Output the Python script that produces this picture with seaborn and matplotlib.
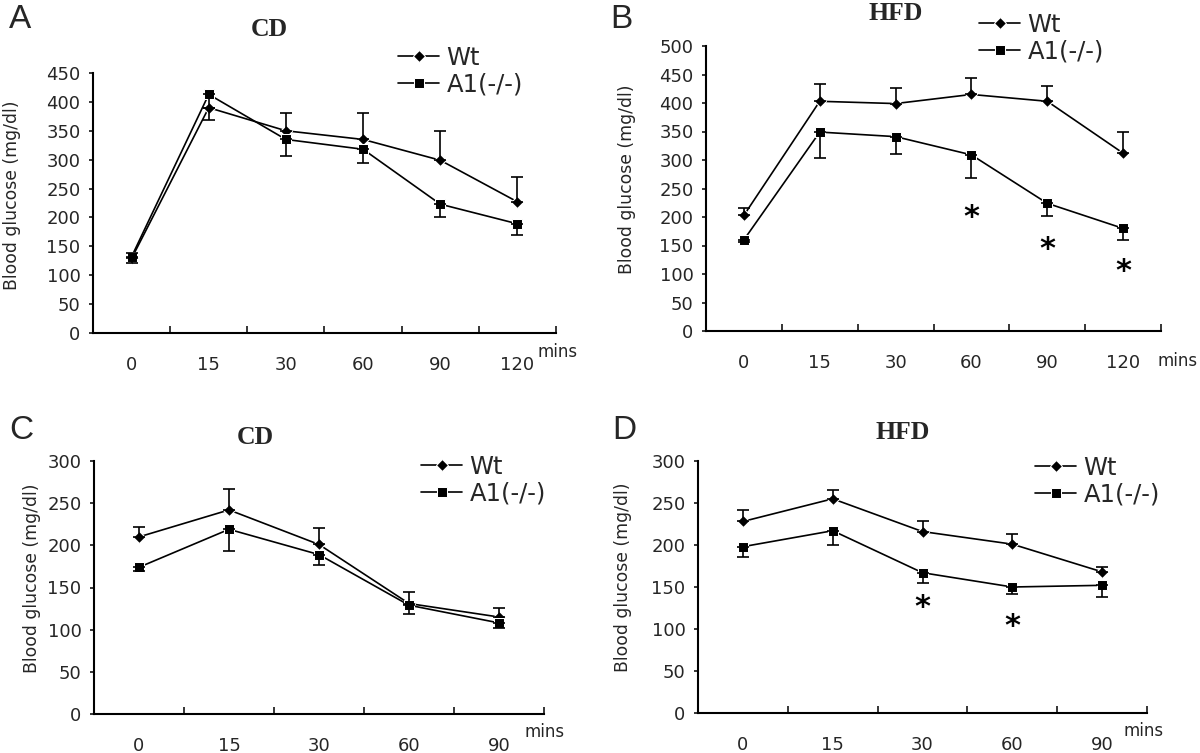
import matplotlib
matplotlib.use("Agg")
import matplotlib.pyplot as plt
import numpy as np
import pandas as pd
import seaborn as sns

# --- data ---
times_long = ["0", "15", "30", "60", "90", "120"]
times_short = ["0", "15", "30", "60", "90"]

# A: CD, long time course
wt_a = [129, 390, 350, 335, 299, 227]
wt_a_err = [9, 0, 30, 45, 51, 43]
ko_a = [132, 413, 335, 318, 223, 189]
ko_a_err = [11, 45, 29, 23, 22, 20]

# B: HFD, long time course
wt_b = [203, 403, 399, 415, 403, 312]
wt_b_err = [13, 31, 27, 28, 26, 38]
ko_b = [160, 349, 341, 309, 224, 180]
ko_b_err = [4, 45, 31, 40, 22, 21]
stars_b_idx = [3, 4, 5]
stars_b_y = [200, 143, 105]

# C: CD, short time course
wt_c = [210, 242, 201, 131, 115]
wt_c_err = [12, 25, 19, 14, 11]
ko_c = [174, 219, 189, 129, 108]
ko_c_err = [5, 26, 12, 11, 6]

# D: HFD, short time course
wt_d = [228, 255, 216, 201, 168]
wt_d_err = [14, 11, 12, 12, 6]
ko_d = [198, 217, 167, 150, 152]
ko_d_err = [12, 17, 12, 8, 14]
stars_d_idx = [2, 3]
stars_d_y = [125, 103]

sns.set_style("ticks")
plt.rcParams["font.family"] = ["DejaVu Sans"]

W, H = 1200, 753
fig = plt.figure(figsize=(12, 7.53), dpi=100)


def px_rect(left, top, right, bottom):
    return [left / W, 1 - bottom / H, (right - left) / W, (bottom - top) / H]


def fxy(x, y):
    return x / W, 1 - y / H


def draw_panel(ax, times, wt, wt_err, ko, ko_err, ymax, stars_idx=(), stars_y=()):
    pos = np.arange(len(times))
    df = pd.DataFrame({"pos": np.concatenate([pos, pos]),
                       "value": wt + ko,
                       "group": ["Wt"] * len(times) + ["A1(-/-)"] * len(times)})
    sns.lineplot(data=df, x="pos", y="value", hue="group", style="group",
                 palette=["black", "black"], markers={"Wt": "D", "A1(-/-)": "s"},
                 dashes=False, markersize=7.5, linewidth=1.2, ax=ax, legend=False)
    ax.lines[0].set_markersize(6)

    # one-sided error bars: Wt up, knockout down
    ax.errorbar(pos, wt, yerr=[np.zeros(len(wt)), wt_err], fmt="none",
                ecolor="black", elinewidth=1.2, capsize=4, capthick=1.2)
    ax.errorbar(pos, ko, yerr=[ko_err, np.zeros(len(ko))], fmt="none",
                ecolor="black", elinewidth=1.2, capsize=4, capthick=1.2)

    for i, y in zip(stars_idx, stars_y):
        ax.text(i, y, "*", ha="center", va="center", fontsize=22,
                fontweight="bold", color="black")

    ax.set_xlim(-0.5, len(times) - 0.5)
    ax.set_ylim(0, ymax)
    ax.set_yticks(np.arange(0, ymax + 1, 50))
    ax.set_xticks(pos)
    ax.set_xticklabels(times)
    ax.set_xticks(np.arange(0.5, len(times), 1), minor=True)
    ax.tick_params(axis="x", which="major", length=0, pad=16.5, labelsize=13)
    ax.tick_params(axis="x", which="minor", direction="in", length=5, width=1.3)
    ax.tick_params(axis="y", direction="out", length=3, width=1.3, pad=6, labelsize=13)
    ax.set_xlabel("")
    ax.set_ylabel("")
    for s in ["left", "bottom"]:
        ax.spines[s].set_linewidth(1.5)
        ax.spines[s].set_color("black")
    sns.despine(ax=ax)
    return ax


def add_legend(ax, x, y):
    handles = ax.lines[:2]
    fig.legend(handles, ["Wt", "A1(-/-)"], loc="upper left",
               bbox_to_anchor=fxy(x, y), frameon=False, fontsize=17.5,
               handlelength=1.7, handletextpad=0.3, labelspacing=0.1,
               borderpad=0, borderaxespad=0)


ax_a = fig.add_axes(px_rect(93, 73, 556, 333))
draw_panel(ax_a, times_long, wt_a, wt_a_err, ko_a, ko_a_err, 450)
ax_b = fig.add_axes(px_rect(706, 46, 1161, 331))
draw_panel(ax_b, times_long, wt_b, wt_b_err, ko_b, ko_b_err, 500, stars_b_idx, stars_b_y)
ax_c = fig.add_axes(px_rect(94, 461, 544, 714))
draw_panel(ax_c, times_short, wt_c, wt_c_err, ko_c, ko_c_err, 300)
ax_d = fig.add_axes(px_rect(698, 461, 1147, 713))
draw_panel(ax_d, times_short, wt_d, wt_d_err, ko_d, ko_d_err, 300, stars_d_idx, stars_d_y)

add_legend(ax_a, 398, 46)
add_legend(ax_b, 979, 13)
add_legend(ax_c, 421, 455)
add_legend(ax_d, 1035, 456)

# y-axis labels
for x, y in [(12, 195), (627, 179), (32, 578), (623, 577)]:
    fig.text(*fxy(x, y), "Blood glucose (mg/dl)", fontsize=12.4, rotation=90,
             ha="center", va="center")

# panel letters
for letter, x, y in [("A", 20, 20), ("B", 621, 20), ("C", 21, 430), ("D", 624, 430)]:
    fig.text(*fxy(x, y), letter, fontsize=24, family="Liberation Sans",
             va="center", ha="center")

# panel titles
for title, x, y in [("CD", 269, 30), ("HFD", 896, 14), ("CD", 255, 437), ("HFD", 903, 432)]:
    fig.text(*fxy(x, y), title, fontsize=18.5, fontweight="bold",
             family="Liberation Serif", ha="center", va="center")

# "mins" unit labels
for x, y in [(558, 352), (1178, 361), (545, 732), (1144, 731)]:
    fig.text(*fxy(x, y), "mins", fontsize=12, ha="center", va="center")

fig.savefig("out.png", dpi=100)
